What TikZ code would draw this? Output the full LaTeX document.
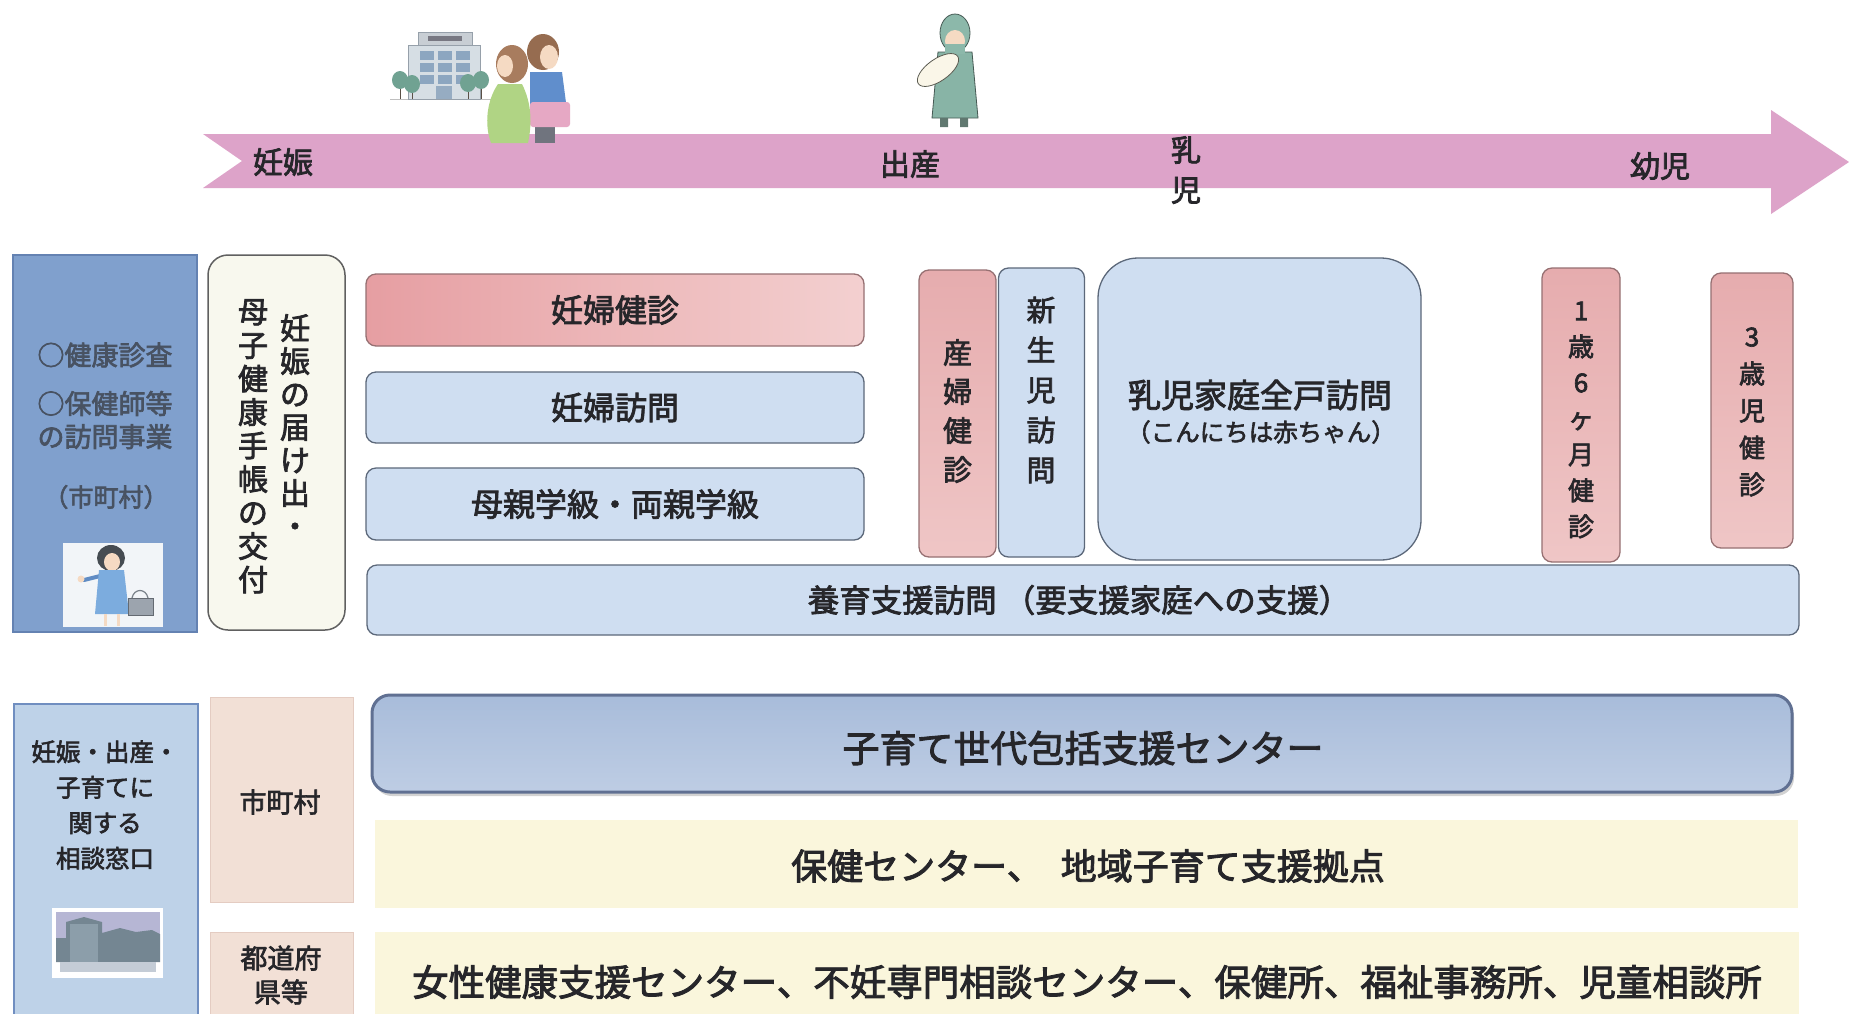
\documentclass[tikz,border=0pt]{standalone}
\usepackage{fontspec}
\setmainfont{Noto Sans CJK JP}[FakeBold=2.5]
\usetikzlibrary{shadows}

\definecolor{bandpink}{RGB}{221,163,201}
\definecolor{ink}{RGB}{38,38,42}
\definecolor{inkblue}{RGB}{72,82,98}
\definecolor{steel}{RGB}{128,160,205}
\definecolor{steelline}{RGB}{100,130,178}
\definecolor{paleblue}{RGB}{207,222,241}
\definecolor{paleline}{RGB}{92,104,122}
\definecolor{pinkA}{RGB}{230,158,162}
\definecolor{pinkB}{RGB}{243,208,208}
\definecolor{pinkC}{RGB}{230,172,174}
\definecolor{pinkD}{RGB}{239,198,198}
\definecolor{pinkline}{RGB}{150,112,114}
\definecolor{cream}{RGB}{248,248,238}
\definecolor{skyblue}{RGB}{190,210,232}
\definecolor{skyline}{RGB}{112,142,192}
\definecolor{peach}{RGB}{242,224,214}
\definecolor{peachline}{RGB}{228,204,194}
\definecolor{centerA}{RGB}{168,188,218}
\definecolor{centerB}{RGB}{190,205,228}
\definecolor{centerline}{RGB}{96,112,146}
\definecolor{butter}{RGB}{250,246,220}
\definecolor{skin}{RGB}{245,218,195}
% illustration colours
\definecolor{wallgrey}{RGB}{214,222,228}
\definecolor{wallline}{RGB}{150,160,170}
\definecolor{signgrey}{RGB}{200,206,212}
\definecolor{signdark}{RGB}{120,120,130}
\definecolor{window}{RGB}{140,166,192}
\definecolor{door}{RGB}{150,172,194}
\definecolor{trunk}{RGB}{90,80,70}
\definecolor{leaf}{RGB}{112,162,146}
\definecolor{hairA}{RGB}{150,108,80}
\definecolor{hairB}{RGB}{168,124,94}
\definecolor{shirt}{RGB}{96,142,204}
\definecolor{trousers}{RGB}{112,116,126}
\definecolor{bagpink}{RGB}{230,168,196}
\definecolor{dress}{RGB}{176,212,132}
\definecolor{scrubs}{RGB}{136,180,166}
\definecolor{scrubsdark}{RGB}{70,90,84}
\definecolor{scrubslegs}{RGB}{96,120,112}
\definecolor{capgreen}{RGB}{140,184,170}
\definecolor{swaddle}{RGB}{250,246,232}
\definecolor{swaddleline}{RGB}{90,90,80}
\definecolor{iconbg}{RGB}{242,245,248}
\definecolor{darkhair}{RGB}{70,76,82}
\definecolor{suit}{RGB}{124,172,222}
\definecolor{suitarm}{RGB}{96,140,196}
\definecolor{handbag}{RGB}{156,164,174}
\definecolor{handbagline}{RGB}{100,106,114}
\definecolor{strap}{RGB}{120,128,136}
\definecolor{dusk}{RGB}{182,182,212}
\definecolor{towerA}{RGB}{116,134,146}
\definecolor{towerB}{RGB}{140,158,170}
\definecolor{plaza}{RGB}{196,204,214}
\definecolor{boxedge}{RGB}{96,96,96}

\begin{document}
\begin{tikzpicture}[x=1pt,y=-1pt,
  every node/.style={inner sep=0pt, text=ink},
  boxbase/.style={draw, line width=1.3pt, rounded corners=10pt},
  bluebox/.style={boxbase, draw=paleline, fill=paleblue},
  pinkbar/.style={boxbase, draw=pinkline, left color=pinkA, right color=pinkB},
  pinkcol/.style={boxbase, draw=pinkline, top color=pinkC, bottom color=pinkD},
  creambox/.style={draw=none, fill=butter},
  tag/.style={draw=peachline, line width=0.8pt, fill=peach},
  bandlabel/.style={font=\fontsize{30}{34}\selectfont},
  mid/.style={font=\fontsize{32}{36}\selectfont},
  big/.style={font=\fontsize{36.5}{40}\selectfont},
  vcol/.style={align=center},
]
\clip (0,0) rectangle (1849,1013);
\fill[white] (0,0) rectangle (1849,1013);

% ---------- time line arrow ----------
\fill[bandpink] (203,134) -- (1771,134) -- (1771,110) -- (1849,162)
  -- (1771,214) -- (1771,188) -- (203,188) -- (242,161) -- cycle;

% hospital with trees
\fill[black!25] (390,98.5) rectangle (494,100);
\filldraw[fill=wallgrey, draw=wallline, line width=0.6pt] (408,45) rectangle (480,99);
\filldraw[fill=signgrey, draw=wallline, line width=0.6pt] (418,32) rectangle (472,45);
\fill[signdark] (428,36) rectangle (462,41);
\foreach \wx in {420,438,456}{
  \foreach \wy in {51,63,75}{
    \fill[window] (\wx,\wy) rectangle ++(14,9);
  }
}
\fill[door] (436,86) rectangle (452,99);
\foreach \tx/\ty in {400/80,412/84,468/83,481/80}{
  \draw[trunk, line width=1pt] (\tx,\ty) -- (\tx,99);
  \fill[leaf] (\tx,\ty) ellipse (8 and 9);
}

% pregnant woman and partner
\fill[hairA] (543,52) ellipse (16 and 18);
\fill[skin] (549,57) ellipse (9 and 12);
\fill[shirt] (530,72) -- (562,72) -- (568,118) -- (530,118) -- cycle;
\fill[trousers] (535,118) rectangle (555,143);
\fill[bagpink, rounded corners=3pt] (530,102) rectangle (570,127);
\fill[hairB] (512,64) ellipse (16 and 19);
\fill[skin] (505,66) ellipse (8 and 11);
\fill[dress] (498,84) -- (522,84) .. controls (532,104) and (532,124) .. (528,143)
  -- (491,143) .. controls (484,124) and (487,100) .. (498,84) -- cycle;

% midwife holding a baby
\filldraw[fill=scrubs, draw=scrubsdark, line width=0.8pt]
  (938,52) -- (972,52) -- (978,118) -- (932,118) -- cycle;
\fill[scrubslegs] (940,118) rectangle (948,127) (960,118) rectangle (968,127);
\filldraw[fill=capgreen, draw=scrubsdark, line width=0.8pt] (955,33) ellipse (15 and 19);
\fill[skin] (955,41) ellipse (10 and 11);
\fill[capgreen] (945,44) rectangle (965,54);
\filldraw[fill=swaddle, draw=swaddleline, line width=0.8pt, rotate around={35:(938,70)}] (938,70) ellipse (24 and 11);

% band labels
\node[bandlabel] (l_ninshin) at (283,162) {妊娠};
\node[bandlabel] (l_shussan) at (910,164) {出産};
\node[align=center, font=\fontsize{30}{40}\selectfont] (l_nyuji) at (1186,170) {乳\\児};
\node[bandlabel] (l_youji) at (1660,166) {幼児};

% ---------- health check and visit programmes ----------
\node[draw=steelline, line width=1.8pt, fill=steel, minimum width=184pt, minimum height=377pt] (hdr1) at (105,443.5) {};
\node[font=\fontsize{27}{33}\selectfont, text=inkblue] (h1a) at (105,355) {○健康診査};
\node[font=\fontsize{27}{33}\selectfont, text=inkblue, align=center] (h1b) at (105,420) {○保健師等\\の訪問事業};
\node[font=\fontsize{25}{30}\selectfont, text=inkblue] (h1c) at (106,497) {（市町村）};

% staff member icon
\fill[iconbg] (63,543) rectangle (163,627);
\fill[darkhair] (111,558) ellipse (14 and 13);
\fill[skin] (112,562) ellipse (8 and 9);
\draw[suitarm, line width=4pt, line cap=round] (100,576) -- (84,580);
\fill[skin] (81,579) circle (3.5);
\fill[suit] (99,570) -- (124,570) -- (129,614) -- (95,614) -- cycle;
\draw[strap, line width=1.2pt] (132,598) .. controls (134,588) and (146,588) .. (148,598);
\filldraw[fill=handbag, draw=handbagline, line width=0.6pt] (128,598) rectangle (153,615);
\draw[skin, line width=3pt] (105,614) -- (105,626) (118,614) -- (118,626);

% registration of pregnancy
\node[draw=boxedge, line width=1.5pt, fill=cream, rounded corners=20pt,
  minimum width=137pt, minimum height=375pt] (todoke) at (276.5,442.5) {};
\node[vcol, font=\fontsize{30}{33}\selectfont, anchor=north] (todoke_r) at (295,314) {妊\\娠\\の\\届\\け\\出\\・};
\node[vcol, font=\fontsize{30}{33.5}\selectfont, anchor=north] (todoke_l) at (253,299) {母\\子\\健\\康\\手\\帳\\の\\交\\付};

% pregnancy programmes
\node[pinkbar, minimum width=498pt, minimum height=72pt] (ninpukenshin) at (615,310) {};
\node[mid] at (ninpukenshin.center) {妊婦健診};
\node[bluebox, minimum width=498pt, minimum height=71pt] (ninpuhoumon) at (615,407.5) {};
\node[mid] at (ninpuhoumon.center) {妊婦訪問};
\node[bluebox, minimum width=498pt, minimum height=72pt] (gakkyu) at (615,504) {};
\node[mid] at (gakkyu.center) {母親学級・両親学級};

% after birth
\node[pinkcol, minimum width=77pt, minimum height=287pt] (sanpu) at (957.5,413.5) {};
\node[vcol, font=\fontsize{29}{39}\selectfont] at (957.5,411) {産\\婦\\健\\診};
\node[bluebox, minimum width=86pt, minimum height=289pt] (shinseiji) at (1041.5,412.5) {};
\node[vcol, font=\fontsize{29}{40}\selectfont] at (1041,390) {新\\生\\児\\訪\\問};
\node[bluebox, rounded corners=40pt, minimum width=323pt, minimum height=302pt] (zenko) at (1259.5,409) {};
\node[font=\fontsize{33}{36}\selectfont] (zenko_t) at (1260,395) {乳児家庭全戸訪問};
\node[font=\fontsize{24.5}{28}\selectfont] (zenko_s) at (1261,432) {（こんにちは赤ちゃん）};

% child check-ups
\node[pinkcol, minimum width=78pt, minimum height=294pt] (kenshin18) at (1581,415) {};
\node[vcol, font=\fontsize{26}{36}\selectfont] at (1581,420) {1\\歳\\6\\ヶ\\月\\健\\診};
\node[pinkcol, minimum width=82pt, minimum height=275pt] (kenshin3) at (1752,410.5) {};
\node[vcol, font=\fontsize{26}{37}\selectfont] at (1752,412) {3\\歳\\児\\健\\診};

% support visits
\node[bluebox, minimum width=1432pt, minimum height=70pt] (youiku) at (1083,600) {};
\node[font=\fontsize{31.5}{34}\selectfont] at (1079,600) {養育支援訪問 （要支援家庭への支援）};

% ---------- consultation desks ----------
\node[draw=skyline, line width=1.8pt, fill=skyblue, anchor=north west,
  minimum width=184pt, minimum height=340pt] (hdr2) at (13,703) {};
\node[vcol, font=\fontsize{24.5}{35.5}\selectfont] (hdr2_t) at (105,805) {妊娠・出産・\\子育てに\\関する\\相談窓口};

% office building icon
\fill[white] (52,908) rectangle (163,978);
\fill[dusk] (56,912) rectangle (160,950);
\fill[towerA] (56,938) -- (66,938) -- (66,922) -- (84,917) -- (102,922) -- (102,933)
  -- (120,928) -- (136,932) -- (152,930) -- (160,934) -- (160,962) -- (56,962) -- cycle;
\fill[towerB] (70,924) rectangle (98,962);
\fill[plaza] (60,962) rectangle (156,972);

% municipality / prefecture tags
\node[tag, minimum width=143pt, minimum height=205pt] (shichoson) at (281.5,799.5) {};
\node[font=\fontsize{27}{30}\selectfont] at (280,802) {市町村};
\node[tag, anchor=north west, minimum width=143pt, minimum height=100pt] (todofuken) at (210,932) {};
\node[vcol, font=\fontsize{27}{34}\selectfont] at (281,975) {都道府\\県等};

% consultation centres
\node[draw=centerline, line width=3pt, top color=centerA, bottom color=centerB, rounded corners=18pt,
  drop shadow={opacity=0.35, shadow xshift=2pt, shadow yshift=-4pt},
  minimum width=1420pt, minimum height=97pt] (sedai) at (1082,743.5) {};
\node[font=\fontsize{37}{40}\selectfont] at (1083,748) {子育て世代包括支援センター};
\node[creambox, minimum width=1423pt, minimum height=88pt] (hoken) at (1086.5,864) {};
\node[font=\fontsize{36}{40}\selectfont] at (1088,866) {保健センター、\hspace{18pt}地域子育て支援拠点};
\node[creambox, anchor=north west, minimum width=1424pt, minimum height=100pt] (kenko) at (375,932) {};
\node[big] at (1087,982) {女性健康支援センター、不妊専門相談センター、保健所、福祉事務所、児童相談所};

\end{tikzpicture}
\end{document}
